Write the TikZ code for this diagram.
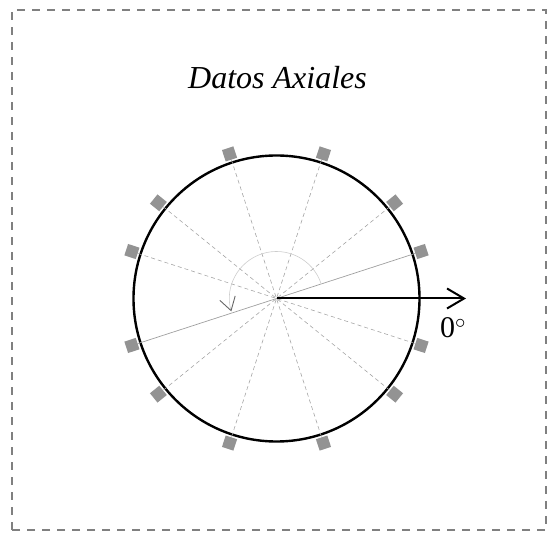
\documentclass[tikz,border=0pt]{standalone}
\usepackage{fontspec}
\setmainfont{Liberation Serif}
\usetikzlibrary{arrows.meta,calc}
\tikzset{
  frame/.style={draw=gray, line width=1.4pt, dash pattern=on 8pt off 7pt},
  ring/.style={draw=black, line width=2.4pt, circle, minimum size=286pt, inner sep=0pt},
  mark sq/.style={fill=gray!85, draw=none, minimum size=12pt, inner sep=0pt},
  axisline/.style={draw=gray!70, line width=0.6pt, dash pattern=on 4pt off 3pt},
  meanline/.style={draw=gray!75, line width=0.7pt},
  sweep/.style={draw=gray!40, line width=0.6pt},
  mainarrow/.style={draw=black, line width=2pt, -{Straight Barb[length=17pt,width=20pt,line width=2pt]}},
  lbl/.style={font=\fontsize{30}{34}\selectfont, inner sep=0pt}
}
\begin{document}
\begin{tikzpicture}[x=1pt,y=1pt]
\useasboundingbox (0,0) rectangle (558,541);
\draw[frame] (12,11) rectangle (546,531);
\coordinate (o) at (276.5,242.5);
\node[ring] (c) at (o) {};
\node[lbl, font=\fontsize{32}{36}\selectfont\itshape, anchor=base] (t) at (277.5,452) {Datos Axiales};
\foreach \a/\n in {18/a,39/b,72/c,108/d,141/e,162/f,198/g,219/h,252/i,288/j,321/k,342/l}{
  \node[mark sq, rotate=\a] (s\n) at ($(o)+(\a:152)$) {};
}
\draw[meanline] (sa) -- (sg);
\draw[axisline] (sb) -- (sh);
\draw[axisline] (sc) -- (si);
\draw[axisline] (sd) -- (sj);
\draw[axisline] (se) -- (sk);
\draw[axisline] (sf) -- (sl);
\draw[sweep, -{Straight Barb[length=13pt,width=16pt,color=gray!80!black,line width=0.9pt]}] ($(o)+(18:47)$) arc[start angle=18, end angle=196, radius=47];
\coordinate (e) at (466,242.5);
\draw[mainarrow] (o) -- (e);
\node[lbl, anchor=base west] (z) at (440,203) {0$^{\circ}$};
\end{tikzpicture}
\end{document}
